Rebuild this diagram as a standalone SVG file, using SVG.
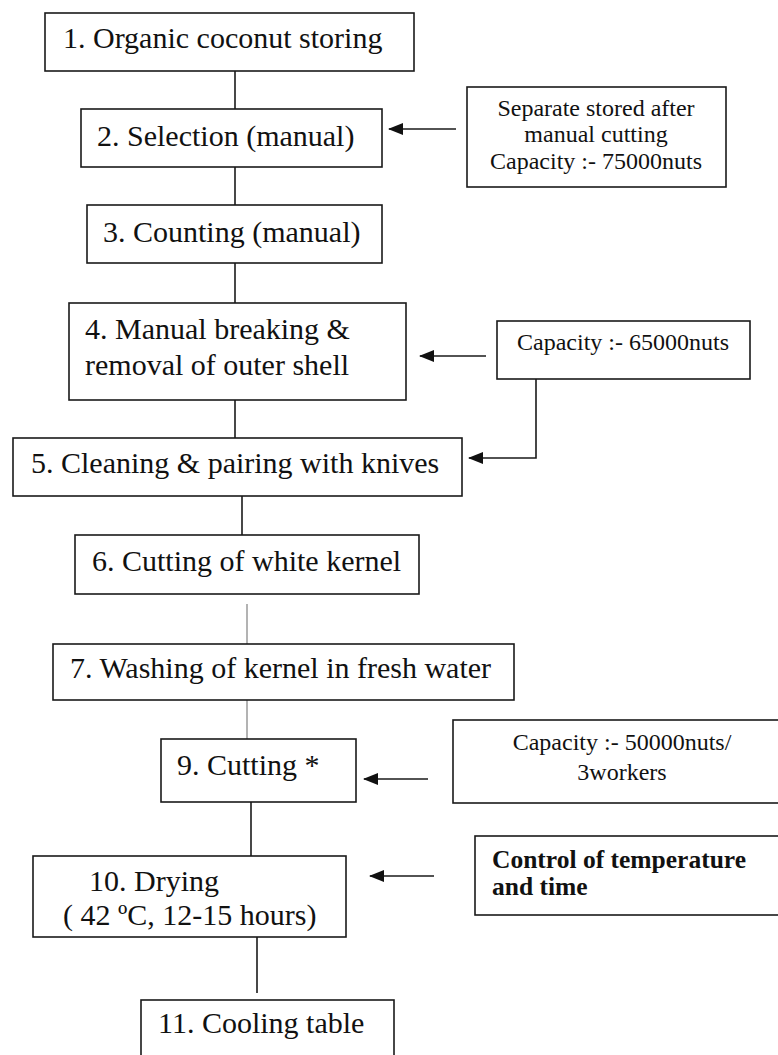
<svg xmlns="http://www.w3.org/2000/svg" width="778" height="1055" viewBox="0 0 778 1055" font-family="'Liberation Serif', 'DejaVu Serif', serif">
<style>
.box{fill:#fff;stroke:#1a1a1a;stroke-width:1.6}
.t{font-family:'Liberation Serif','DejaVu Serif',serif;font-size:30px;fill:#111}
.s{font-family:'Liberation Serif','DejaVu Serif',serif;font-size:24px;fill:#111}
.b{font-family:'Liberation Serif','DejaVu Serif',serif;font-size:25.5px;font-weight:bold;fill:#111}
.ln{stroke:#1a1a1a;stroke-width:1.6;fill:none}
.gl{stroke:#8a8a8a;stroke-width:1.3;fill:none}
.ar{stroke:#1a1a1a;stroke-width:1.6;fill:none;marker-end:url(#ah)}
</style>
<defs>
<marker id="ah" markerWidth="15" markerHeight="12" refX="14" refY="6" orient="auto" markerUnits="userSpaceOnUse">
<path d="M0,0 L15,6 L0,12 Z" fill="#111"/>
</marker>
</defs>
<rect width="778" height="1055" fill="#fff"/>
<g id="connectors">
<line class="ln" x1="235" y1="71" x2="235" y2="109"/>
<line class="ln" x1="235" y1="167" x2="235" y2="205"/>
<line class="ln" x1="235" y1="263" x2="235" y2="303"/>
<line class="ln" x1="235" y1="400" x2="235" y2="438"/>
<line class="ln" x1="242" y1="496" x2="242" y2="535"/>
<line class="gl" x1="247" y1="604" x2="247" y2="644"/>
<line class="gl" x1="247" y1="700" x2="247" y2="739"/>
<line class="ln" x1="251" y1="798" x2="251" y2="856"/>
<line class="ln" x1="257" y1="933" x2="257" y2="993"/>
<line class="ar" x1="456" y1="129" x2="389" y2="129"/>
<line class="ar" x1="486" y1="356" x2="420" y2="356"/>
<polyline class="ar" points="536,379 536,458 469,458"/>
<line class="ar" x1="428" y1="779" x2="364" y2="779"/>
<line class="ar" x1="434" y1="876" x2="370" y2="876"/>
</g>
<g id="n1"><rect class="box" x="45" y="13" width="369" height="58"/><text class="t" x="63" y="48">1. Organic coconut storing</text></g>
<g id="n2"><rect class="box" x="81" y="109" width="301" height="58"/><text class="t" x="97" y="146">2. Selection (manual)</text></g>
<g id="n3"><rect class="box" x="87" y="205" width="295" height="58"/><text class="t" x="103" y="242">3. Counting (manual)</text></g>
<g id="n4"><rect class="box" x="69" y="303" width="337" height="97"/><text class="t" x="85" y="339">4. Manual breaking &amp;</text><text class="t" x="85" y="375">removal of outer shell</text></g>
<g id="n5"><rect class="box" x="13" y="438" width="449" height="58"/><text class="t" x="31" y="473">5. Cleaning &amp; pairing with knives</text></g>
<g id="n6"><rect class="box" x="75" y="535" width="344" height="59"/><text class="t" x="92" y="571">6. Cutting of white kernel</text></g>
<g id="n7"><rect class="box" x="53" y="644" width="461" height="56"/><text class="t" x="70" y="678">7. Washing of kernel in fresh water</text></g>
<g id="n9"><rect class="box" x="161" y="739" width="195" height="63"/><text class="t" x="177" y="775">9. Cutting *</text></g>
<g id="n10"><rect class="box" x="33" y="856" width="313" height="81"/><text class="t" x="89" y="891">10. Drying</text><text class="t" x="63" y="925">( 42 ºC, 12-15 hours)</text></g>
<g id="n11"><rect class="box" x="141" y="1000" width="253" height="70"/><text class="t" x="158" y="1033">11. Cooling table</text></g>
<g id="sA"><rect class="box" x="467" y="87" width="259" height="100"/>
<text class="s" text-anchor="middle" x="596" y="116">Separate stored after</text>
<text class="s" text-anchor="middle" x="596" y="142">manual cutting</text>
<text class="s" text-anchor="middle" x="596" y="169">Capacity :- 75000nuts</text></g>
<g id="sB"><rect class="box" x="497" y="321" width="253" height="58"/><text class="s" text-anchor="middle" x="623" y="350">Capacity :- 65000nuts</text></g>
<g id="sC"><rect class="box" x="453" y="720" width="340" height="83"/>
<text class="s" text-anchor="middle" x="622" y="750">Capacity :- 50000nuts/</text>
<text class="s" text-anchor="middle" x="622" y="780">3workers</text></g>
<g id="sD"><rect class="box" x="475" y="836" width="320" height="79"/>
<text class="b" x="492" y="868">Control of temperature</text>
<text class="b" x="492" y="895">and time</text></g>
</svg>
